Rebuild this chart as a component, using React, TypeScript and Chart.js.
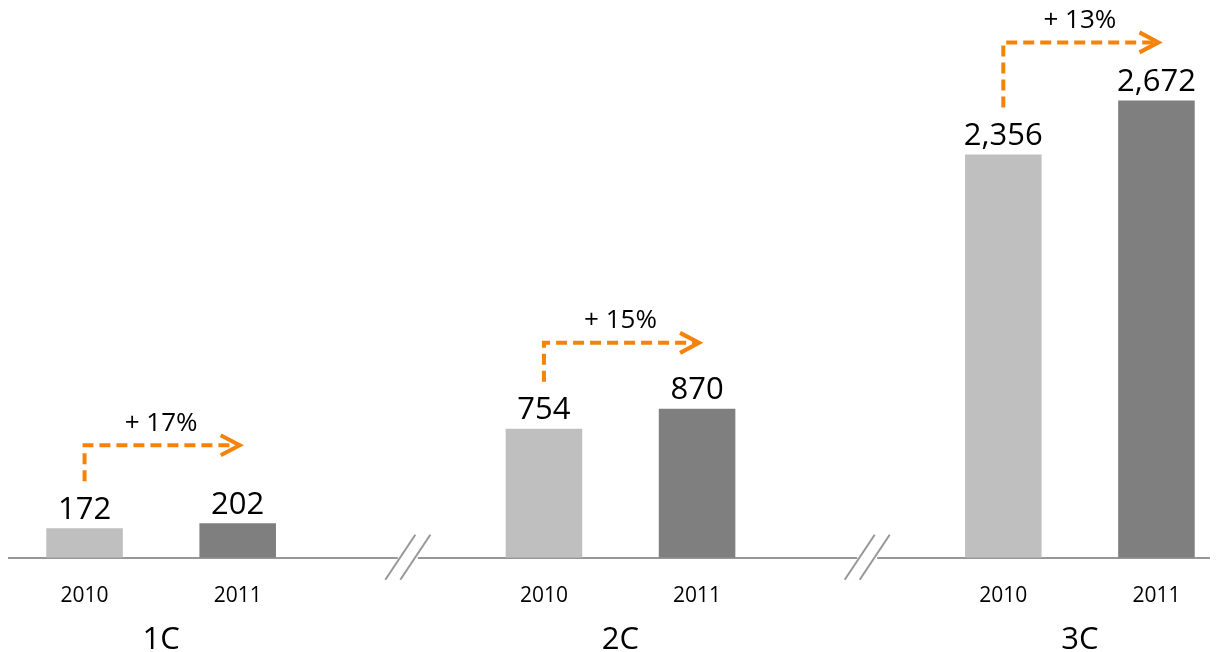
import { useEffect, useRef } from 'react';
import { Chart, registerables } from 'chart.js';

Chart.register(...registerables);

const groups = ['1C', '2C', '3C'];
const years = ['2010', '2011'];
const values2010 = [172, 754, 2356];
const values2011 = [202, 870, 2672];
const growthLabels = ['+ 17%', '+ 15%', '+ 13%'];
const yMax = 3200;

const COLOR_2010 = '#BFBFBF';
const COLOR_2011 = '#7F7F7F';
const ORANGE = '#F5820A';
const AXIS = '#979797';
const FONT = "'Open Sans', sans-serif";

export default function App() {
  const ref = useRef<HTMLCanvasElement>(null);

  useEffect(() => {
    if (!ref.current) return;
    const labels: string[] = [];
    const data: (number | null)[] = [];
    const colors: string[] = [];
    groups.forEach((_, i) => {
      if (i > 0) {
        labels.push('');
        data.push(null);
        colors.push('rgba(0,0,0,0)');
      }
      labels.push(years[0]);
      data.push(values2010[i]);
      colors.push(COLOR_2010);
      labels.push(years[1]);
      data.push(values2011[i]);
      colors.push(COLOR_2011);
    });

    const arrowRise = [78, 66, 58];

    const annotPlugin = {
      id: 'annot',
      afterDatasetsDraw(chart: any) {
        const { ctx, chartArea, scales } = chart;
        const x = scales.x;
        const y = scales.y;
        const meta = chart.getDatasetMeta(0);
        ctx.save();

        // break marks
        [2, 5].forEach((idx) => {
          const cx = x.getPixelForValue(idx) + 17;
          const cy = chartArea.bottom;
          ctx.fillStyle = '#FFFFFF';
          ctx.fillRect(cx - 10, cy - 3, 20, 6);
          ctx.strokeStyle = AXIS;
          ctx.lineWidth = 2;
          ctx.setLineDash([]);
          [-7.5, 7.5].forEach((o) => {
            ctx.beginPath();
            ctx.moveTo(cx + o - 15, cy + 22);
            ctx.lineTo(cx + o + 15, cy - 23);
            ctx.stroke();
          });
        });

        // value labels
        ctx.fillStyle = '#000';
        ctx.font = `31px ${FONT}`;
        ctx.textAlign = 'center';
        ctx.textBaseline = 'bottom';
        meta.data.forEach((bar: any, i: number) => {
          const v = data[i];
          if (v == null) return;
          ctx.fillText(v.toLocaleString('en-US'), bar.x, bar.y - 3);
        });

        groups.forEach((g, gi) => {
          const xa = x.getPixelForValue(gi * 3);
          const xb = x.getPixelForValue(gi * 3 + 1);

          // group label
          ctx.fillStyle = '#000';
          ctx.font = `31px ${FONT}`;
          ctx.textAlign = 'center';
          ctx.textBaseline = 'middle';
          ctx.fillText(g, (xa + xb) / 2, chartArea.bottom + 82);

          // growth arrow
          const yTop = y.getPixelForValue(values2011[gi]) - arrowRise[gi];
          const yBottom = y.getPixelForValue(values2010[gi]) - 47;
          const xEnd = xb + 2;
          ctx.strokeStyle = ORANGE;
          ctx.lineWidth = 4;
          ctx.lineJoin = 'miter';
          ctx.lineCap = 'butt';
          ctx.setLineDash([11, 6]);
          ctx.beginPath();
          ctx.moveTo(xa, yBottom);
          ctx.lineTo(xa, yTop);
          ctx.lineTo(xEnd - 4, yTop);
          ctx.stroke();
          ctx.setLineDash([]);
          ctx.beginPath();
          ctx.moveTo(xEnd - 19, yTop - 10);
          ctx.lineTo(xEnd, yTop);
          ctx.lineTo(xEnd - 19, yTop + 10);
          ctx.stroke();

          ctx.fillStyle = '#000';
          ctx.font = `26px ${FONT}`;
          ctx.fillText(growthLabels[gi], (xa + xb) / 2, yTop - 22);
        });

        ctx.restore();
      },
    };

    const chart = new Chart(ref.current, {
      type: 'bar',
      data: {
        labels,
        datasets: [
          {
            data,
            backgroundColor: colors,
            borderWidth: 0,
            barPercentage: 0.5,
            categoryPercentage: 1,
          },
        ],
      },
      options: {
        responsive: false,
        animation: false,
        layout: { padding: { top: 2, bottom: 17, left: 0, right: 0 } },
        plugins: { legend: { display: false }, tooltip: { enabled: false }, title: { display: false } },
        scales: {
          x: {
            grid: { display: false, drawTicks: false },
            border: { display: true, color: AXIS, width: 2 },
            ticks: { color: '#000', font: { family: FONT, size: 21 }, padding: 26, autoSkip: false, maxRotation: 0 },
          },
          y: {
            display: false,
            min: 0,
            max: yMax,
          },
        },
      },
      plugins: [annotPlugin],
    });
    return () => chart.destroy();
  }, []);

  return (
    <div style={{ width: 1210, height: 644, overflow: 'hidden', position: 'relative' }}>
      <canvas ref={ref} width={1225} height={644} style={{ display: 'block' }} />
    </div>
  );
}
